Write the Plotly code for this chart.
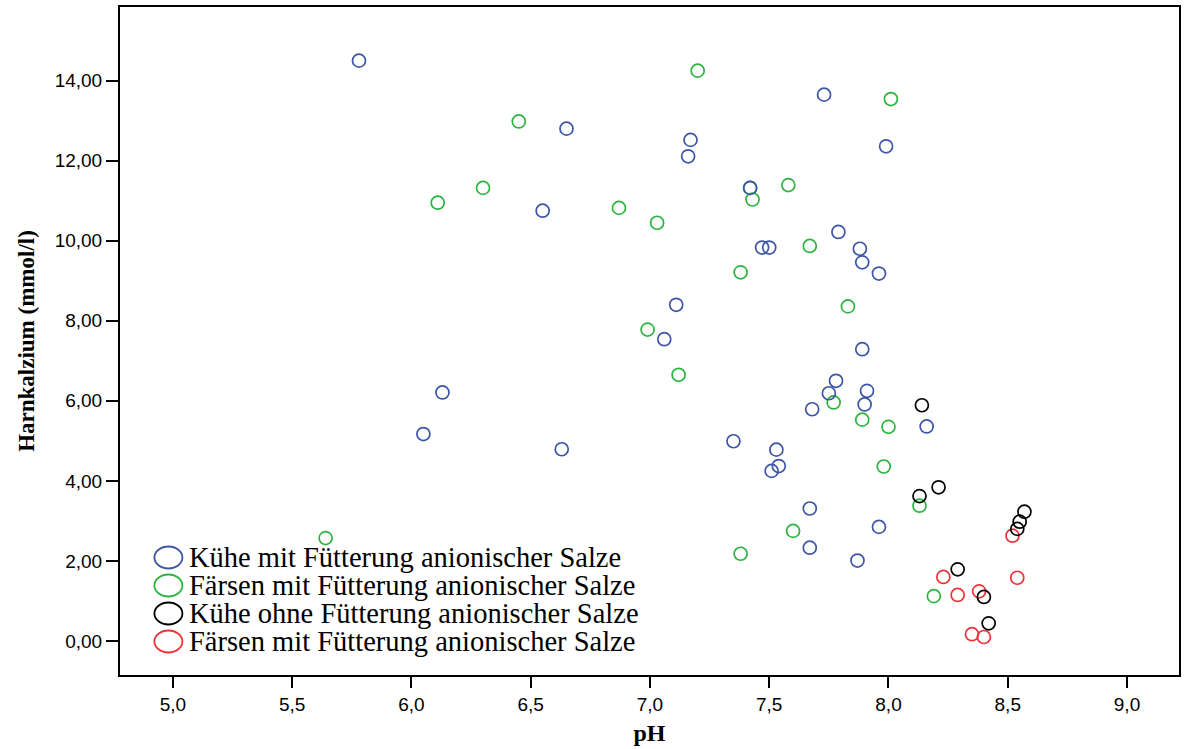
import plotly.graph_objects as go

# ---- data (pH, Harnkalzium mmol/l) ----
kuehe_mit_ph = [5.78, 6.65, 7.17, 7.16, 6.55, 7.73, 7.99, 7.42, 7.79, 7.47, 7.50, 7.88, 7.89, 7.96,
                7.11, 7.06, 7.89, 7.78, 7.75, 7.91, 7.90, 7.68, 8.16, 7.35, 7.53, 7.54, 7.51, 7.67,
                7.96, 7.67, 7.87, 6.13, 6.05, 6.63]
kuehe_mit_ca = [14.50, 12.80, 12.52, 12.11, 10.75, 13.65, 12.36, 11.32, 10.22, 9.83, 9.83, 9.80, 9.46, 9.18,
                8.40, 7.54, 7.29, 6.50, 6.19, 6.25, 5.91, 5.79, 5.36, 4.99, 4.78, 4.37, 4.25, 3.31,
                2.85, 2.33, 2.01, 6.21, 5.17, 4.79]

faersen_mit_ph = [7.20, 6.45, 8.01, 6.30, 6.11, 6.87, 7.03, 7.42, 7.43, 7.58, 7.67, 7.38, 7.83, 6.99,
                  7.12, 7.77, 7.89, 8.00, 7.98, 8.13, 7.60, 7.38, 8.19, 5.64]
faersen_mit_ca = [14.25, 12.98, 13.54, 11.32, 10.95, 10.82, 10.45, 11.32, 11.03, 11.39, 9.87, 9.21, 8.36, 7.78,
                  6.65, 5.96, 5.53, 5.35, 4.36, 3.38, 2.75, 2.18, 1.12, 2.57]

kuehe_ohne_ph = [8.14, 8.21, 8.13, 8.57, 8.55, 8.54, 8.29, 8.40, 8.42]
kuehe_ohne_ca = [5.89, 3.84, 3.62, 3.23, 2.98, 2.80, 1.79, 1.10, 0.44]

faersen_rot_ph = [8.52, 8.23, 8.54, 8.38, 8.29, 8.35, 8.40]
faersen_rot_ca = [2.63, 1.60, 1.58, 1.24, 1.15, 0.17, 0.10]

labels = ["Kühe mit Fütterung anionischer Salze",
          "Färsen mit Fütterung anionischer Salze",
          "Kühe ohne Fütterung anionischer Salze",
          "Färsen mit Fütterung anionischer Salze"]
colors = ["#3d55a8", "#2bb540", "#000000", "#ee3338"]

x_ticks = [5.0, 5.5, 6.0, 6.5, 7.0, 7.5, 8.0, 8.5, 9.0]
y_ticks = [0, 2, 4, 6, 8, 10, 12, 14]

series = [
    (faersen_mit_ph, faersen_mit_ca, 1),
    (kuehe_mit_ph, kuehe_mit_ca, 0),
    (faersen_rot_ph, faersen_rot_ca, 3),
    (kuehe_ohne_ph, kuehe_ohne_ca, 2),
]

fig = go.Figure()
for xs, ys, i in series:
    fig.add_trace(go.Scatter(
        x=xs, y=ys, mode="markers", name=labels[i], showlegend=False,
        marker=dict(symbol="circle-open", size=13, color=colors[i],
                    line=dict(width=1.7, color=colors[i])),
    ))

# manual legend (large ellipses like the original)
L, R, T, B = 120, 1181, 7, 675
W, H = R - L, B - T
leg_y = [557.5, 585.5, 613.5, 641.5]
for i, lab in enumerate(labels):
    py = (B - leg_y[i]) / H
    fig.add_shape(type="circle", xref="paper", yref="paper",
                  xsizemode="pixel", ysizemode="pixel",
                  xanchor=(168.5 - L) / W, yanchor=py,
                  x0=-14, x1=14, y0=-11, y1=11,
                  line=dict(color=colors[i], width=1.8))
    fig.add_annotation(text=lab, xref="paper", yref="paper",
                       x=(187 - L) / W, y=py, xanchor="left", yanchor="middle",
                       showarrow=False,
                       font=dict(family="Liberation Serif", size=28.5, color="black"))

fig.update_layout(
    width=1185, height=749,
    margin=dict(l=L, r=1185 - R, t=T, b=749 - B),
    paper_bgcolor="white", plot_bgcolor="white",
    separators=",.",
    showlegend=False,
    font=dict(family="Liberation Sans", color="black"),
)
fig.update_xaxes(
    range=[4.778, 9.218], tickvals=x_ticks, tickformat=".1f",
    showgrid=False, zeroline=False,
    showline=True, linecolor="black", linewidth=2, mirror=True,
    ticks="outside", ticklen=11, tickwidth=2, tickcolor="black",
    tickfont=dict(family="Liberation Sans", size=19, color="black"),
    title=dict(text="<b>pH</b>", standoff=10,
               font=dict(family="Liberation Serif", size=24, color="black")),
)
fig.update_yaxes(
    range=[-0.85, 15.84], tickvals=y_ticks, tickformat=".2f",
    showgrid=False, zeroline=False,
    showline=True, linecolor="black", linewidth=2, mirror=True,
    ticks="outside", ticklen=12, tickwidth=2, tickcolor="black",
    tickfont=dict(family="Liberation Sans", size=19, color="black"),
    title=dict(text="<b>Harnkalzium (mmol/l)</b>", standoff=14,
               font=dict(family="Liberation Serif", size=23, color="black")),
)

fig.write_html("out.html")
